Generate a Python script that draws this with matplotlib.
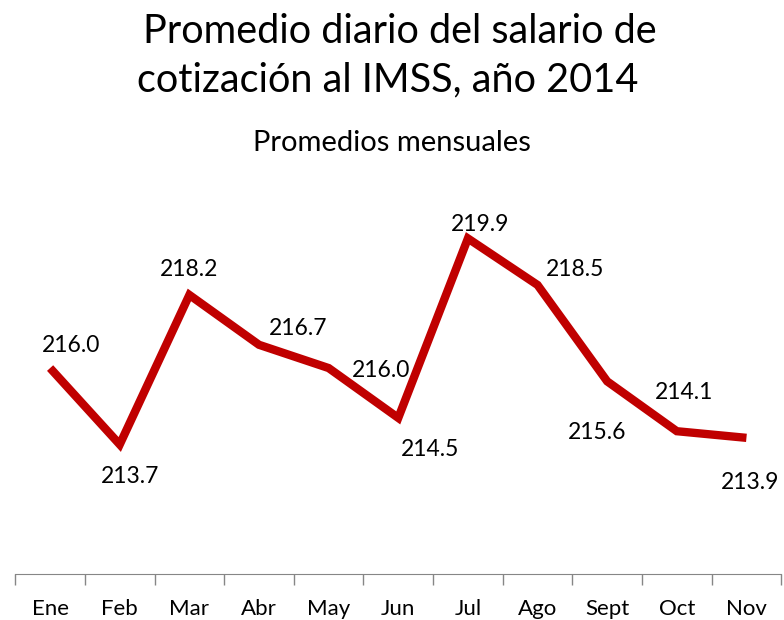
import numpy as np
import matplotlib.pyplot as plt

plt.rcParams['font.family'] = ['Lato', 'DejaVu Sans']

meses = ["Ene", "Feb", "Mar", "Abr", "May", "Jun", "Jul", "Ago", "Sept", "Oct", "Nov"]
salario = [216.0, 213.7, 218.2, 216.7, 216.0, 214.5, 219.9, 218.5, 215.6, 214.1, 213.9]
# label offsets in pixels (dx, dy up)
offsets = [(21, 23), (10, -32), (0, 25), (39, 16), (52, -2), (32, -32),
           (12, 14), (38, 15), (-10, -51), (7, 39), (4, -45)]

fig = plt.figure(figsize=(7.84, 6.2), dpi=100)
ax = fig.add_axes([0.0195, 0.074, 0.977, 0.654])

x = np.arange(len(meses))
ax.plot(x, salario, color="#C00000", lw=6, solid_joinstyle="miter", solid_capstyle="butt")

for xi, v, (dx, dy) in zip(x, salario, offsets):
    ax.annotate(f"{v:.1f}", (xi, v), xytext=(dx, dy), textcoords="offset pixels",
                ha="center", va="center", fontsize=16.5, color="black")

ax.set_xlim(-0.5, len(meses) - 0.5)
ax.set_ylim(209.8, 222)
ax.set_yticks([])
for s in ["top", "right", "left"]:
    ax.spines[s].set_visible(False)
ax.spines["bottom"].set_color("#868686")
ax.set_xticks(x)
ax.set_xticklabels(meses, fontsize=16)
ax.tick_params(axis="x", which="major", length=0, pad=18)
ax.set_xticks(np.arange(-0.5, len(meses)), minor=True)
ax.tick_params(axis="x", which="minor", length=8, color="#868686", width=1)

fig.text(0.51, 0.949, "Promedio diario del salario de", ha="center", va="center", fontsize=28.5)
fig.text(0.4945, 0.871, "cotización al IMSS, año 2014", ha="center", va="center", fontsize=28.5)
fig.text(0.5, 0.769, "Promedios mensuales", ha="center", va="center", fontsize=21)

fig.savefig("out.png", dpi=100)
